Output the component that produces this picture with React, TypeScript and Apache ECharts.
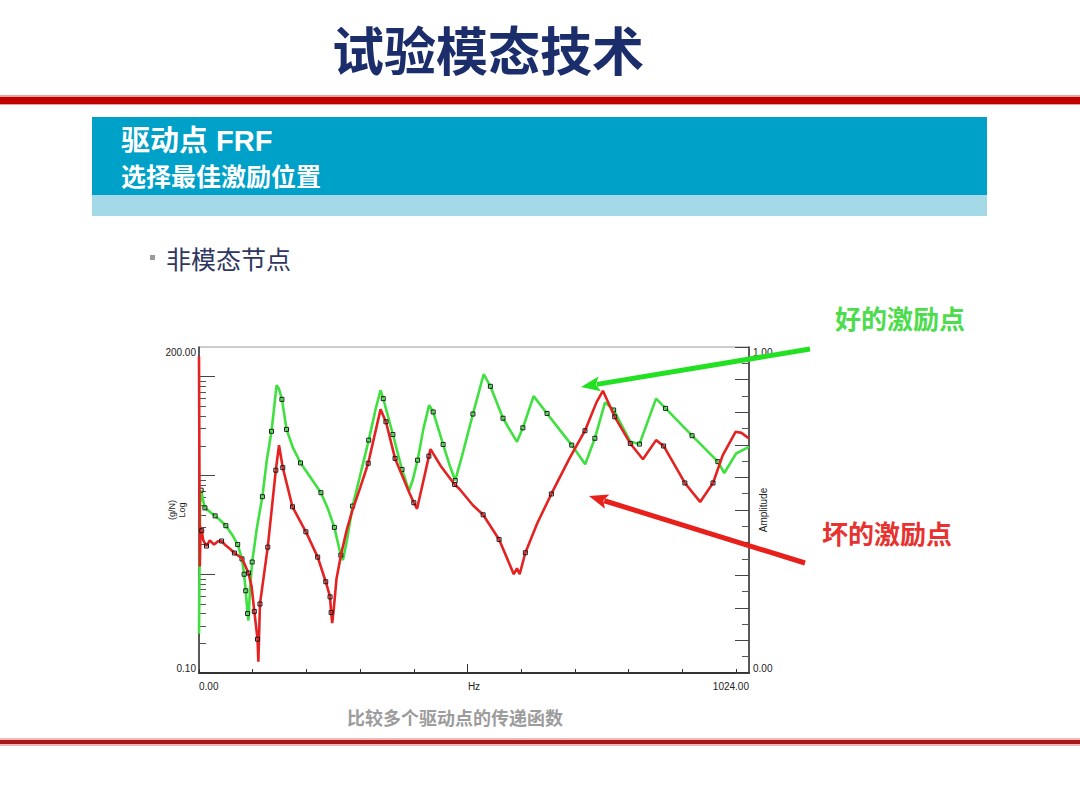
import React, { useEffect, useRef } from "react";
import * as echarts from "echarts";

// ---- axis ticks / labels ----
const xTickValues = [0, 100, 200, 300, 400, 500, 600, 700, 800, 900, 1000];
const xMidTick = [500];
const xLabelValues = [0, 1024];
const yLogMajorTicks = [1, 10, 100];
const yLogMinorTicks = [0.2, 0.3, 0.4, 0.5, 0.6, 0.7, 0.8, 0.9, 2, 3, 4, 5, 6, 7, 8, 9, 20, 30, 40, 50, 60, 70, 80, 90];
const yLogLabelValues = [0.1, 200];
const ampLabelValues = [0, 1];

// ---- good drive point FRF (green) ----
const goodFreq = [0, 2, 4, 7, 11, 20, 30, 40, 50, 62, 72, 80, 84, 87, 90.5, 92, 95, 99, 108, 118, 126, 135, 144.5, 149, 154.4, 163, 175, 189, 208, 227, 240, 252, 264, 268, 276, 286, 300, 316, 330, 338, 343, 361, 378, 391, 398, 407, 418, 428.5, 436, 454.5, 466, 477, 490, 510, 530, 542.5, 566, 592, 603, 623, 648, 672, 694, 719, 737, 756, 772, 790, 803, 820, 851, 868.7, 918, 966, 978, 1000, 1024];
const goodAmp = [0.25, 5.0, 7.1, 5.8, 4.7, 4.3, 3.9, 3.5, 3.1, 2.5, 2.0, 1.43, 1.0, 0.68, 0.4, 0.34, 0.7, 1.33, 3.0, 6.1, 14, 28, 82, 75, 59, 29.3, 19, 13.4, 9.5, 6.7, 4.6, 2.98, 1.56, 1.39, 2.3, 4.9, 10, 22.8, 50, 73, 60, 26, 11.5, 7.0, 9.0, 14.3, 30, 51.6, 44, 20.6, 13, 8.9, 16, 41.9, 106, 80, 38, 21.9, 30.4, 63.6, 42.5, 28.8, 20.3, 13, 23.8, 55, 46, 30, 22, 20.8, 60, 47.8, 25.3, 13.8, 10.6, 16.7, 19.5];
const goodMarkFreq = [4, 11, 30, 50, 72, 80, 84, 87, 90.5, 99, 118, 135, 154.4, 163, 189, 227, 252, 264, 286, 316, 343, 361, 378, 407, 436, 454.5, 477, 510, 542.5, 566, 603, 648, 694, 737, 772, 820, 868.7, 918, 966];

// ---- bad drive point FRF (red) ----
const badFreq = [0, 1.5, 3, 5, 8, 14, 20, 28, 35, 42, 50, 58, 66, 80, 92, 98, 103, 109, 110.5, 113.5, 128, 143, 149, 156, 174, 199, 221, 236, 244, 246, 248, 251, 256, 265, 275, 286, 300, 315, 338, 348, 365, 392, 400, 406, 420, 428, 431, 450, 476, 485, 510, 529, 558.7, 580, 586, 592, 597, 607.6, 630, 656, 690, 718.6, 740, 752, 774, 803, 826.5, 851, 865, 904.6, 933, 957, 975, 999, 1010, 1024];
const badAmp = [160, 1.2, 3.0, 2.76, 2.2, 1.93, 2.2, 2.0, 2.15, 2.17, 1.95, 1.8, 1.64, 1.45, 1.03, 0.75, 0.42, 0.22, 0.13, 0.5, 1.88, 11.3, 20.3, 12, 4.82, 2.69, 1.49, 0.84, 0.59, 0.41, 0.32, 0.45, 0.9, 1.63, 2.8, 4.5, 7.5, 13.3, 46.7, 35, 14.9, 6.6, 5.3, 4.6, 10, 15.7, 18.5, 12.5, 8.1, 7.3, 5.0, 4.0, 2.25, 1.2, 1.0, 1.15, 1.0, 1.65, 3.3, 6.5, 15, 28.4, 55, 72, 39.3, 21.1, 14.6, 22.8, 19.9, 8.4, 5.4, 8.4, 16, 27.7, 27, 23.7];
const badMarkFreq = [5, 14, 42, 66, 92, 103, 109, 113.5, 128, 143, 156, 174, 199, 221, 236, 244, 246, 315, 348, 365, 400, 428, 476, 529, 558.7, 607.6, 656, 718.6, 774, 803, 865, 904.6, 957];

const CJK = '"Noto Sans CJK SC", sans-serif';
const LATIN_CJK = '"Liberation Sans", Arial, "Noto Sans CJK SC", sans-serif';

function buildLine(freq: number[], amp: number[], marks: number[]) {
  return freq.map((f, i) => ({
    value: [f, amp[i]],
    symbol: marks.includes(f) ? "rect" : "none",
  }));
}

function arrow(x1: number, y1: number, x2: number, y2: number, color: string) {
  const head = 19;
  const half = 7.5;
  const dx = x2 - x1;
  const dy = y2 - y1;
  const L = Math.hypot(dx, dy);
  const ux = dx / L;
  const uy = dy / L;
  const bx = x2 - ux * head;
  const by = y2 - uy * head;
  const nx = -uy;
  const ny = ux;
  return [
    {
      type: "line",
      z: 100,
      shape: { x1, y1, x2: bx + ux * 3, y2: by + uy * 3 },
      style: { stroke: color, lineWidth: 5 },
    },
    {
      type: "polygon",
      z: 100,
      shape: {
        points: [
          [x2, y2],
          [bx + nx * half, by + ny * half],
          [bx + ux * 4, by + uy * 4],
          [bx - nx * half, by - ny * half],
        ],
      },
      style: { fill: color },
    },
  ];
}

function txt(x: number, y: number, text: string, font: string, fill: string, align = "left") {
  return {
    type: "text",
    x,
    y,
    z: 50,
    style: {
      text,
      font,
      fill,
      align,
      textAlign: align,
      verticalAlign: "middle",
      textVerticalAlign: "middle",
    },
  };
}

export default function App() {
  const ref = useRef<HTMLDivElement>(null);

  useEffect(() => {
    if (!ref.current) return;
    const chart = echarts.init(ref.current, undefined, { renderer: "svg" });
    const axisText = { fontSize: 10, color: "#222", fontFamily: '"Liberation Sans", Arial, sans-serif' };

    const option: any = {
      animation: false,
      backgroundColor: "#ffffff",
      textStyle: { fontFamily: '"Liberation Sans", Arial, sans-serif' },
      grid: {
        left: 199,
        top: 347,
        width: 550,
        height: 326,
        show: true,
        borderColor: "#9a9a9a",
        borderWidth: 1,
        backgroundColor: "transparent",
        containLabel: false,
        outerBoundsMode: "none",
      },
      xAxis: [
        {
          type: "value",
          min: 0,
          max: 1024,
          position: "bottom",
          axisLine: { show: true, onZero: false, lineStyle: { color: "#333", width: 2 } },
          axisTick: { show: true, inside: true, length: 4, customValues: xTickValues, lineStyle: { color: "#333" } },
          axisLabel: {
            ...axisText,
            customValues: xLabelValues,
            formatter: (v: number) => Number(v).toFixed(2),
            margin: 8,
            alignMinLabel: "left",
            alignMaxLabel: "right",
          },
          splitLine: { show: false },
          name: "Hz",
          nameLocation: "middle",
          nameGap: 8,
          nameMoveOverlap: false,
          nameTextStyle: { ...axisText },
        },
        {
          type: "value",
          min: 0,
          max: 1024,
          position: "bottom",
          axisLine: { show: false, onZero: false },
          axisTick: { show: true, inside: true, length: 9, customValues: xMidTick, lineStyle: { color: "#333" } },
          axisLabel: { show: false },
          splitLine: { show: false },
        },
      ],
      yAxis: [
        {
          type: "log",
          logBase: 10,
          min: 0.1,
          max: 200,
          position: "left",
          axisLine: { show: true, onZero: false, lineStyle: { color: "#333", width: 1.5 } },
          axisTick: { show: true, inside: true, length: 16, customValues: yLogMajorTicks, lineStyle: { color: "#444" } },
          axisLabel: {
            ...axisText,
            customValues: yLogLabelValues,
            formatter: (v: number) => Number(v).toFixed(2),
            margin: 3,
            verticalAlignMinLabel: "bottom",
            verticalAlignMaxLabel: "top",
          },
          splitLine: { show: false },
          name: "(g/N)\nLog",
          nameLocation: "middle",
          nameRotate: 90,
          nameGap: 12,
          nameMoveOverlap: false,
          nameTextStyle: { fontSize: 9, lineHeight: 10, color: "#222" },
        },
        {
          type: "log",
          logBase: 10,
          min: 0.1,
          max: 200,
          position: "left",
          axisLine: { show: false, onZero: false },
          axisTick: { show: true, inside: true, length: 7, customValues: yLogMinorTicks, lineStyle: { color: "#555" } },
          axisLabel: { show: false },
          splitLine: { show: false },
        },
        {
          type: "value",
          min: 0,
          max: 1,
          interval: 0.1,
          position: "right",
          axisLine: { show: true, onZero: false, lineStyle: { color: "#333", width: 1.5 } },
          axisTick: { show: true, inside: true, length: 14, lineStyle: { color: "#444" } },
          minorTick: { show: true, splitNumber: 2, length: 7, lineStyle: { color: "#555" } },
          axisLabel: {
            ...axisText,
            customValues: ampLabelValues,
            formatter: (v: number) => Number(v).toFixed(2),
            margin: 4,
            verticalAlignMinLabel: "bottom",
            verticalAlignMaxLabel: "top",
          },
          splitLine: { show: false },
          minorSplitLine: { show: false },
          name: "Amplitude",
          nameLocation: "middle",
          nameRotate: 90,
          nameGap: 9,
          nameMoveOverlap: false,
          nameTextStyle: { ...axisText },
        },
      ],
      series: [
        {
          name: "好的激励点",
          type: "line",
          xAxisIndex: 0,
          yAxisIndex: 0,
          data: buildLine(goodFreq, goodAmp, goodMarkFreq),
          showSymbol: true,
          showAllSymbol: true,
          symbolSize: 4,
          lineStyle: { color: "#3fe03f", width: 2.6 },
          itemStyle: { color: "rgba(255,255,255,0)", borderColor: "#1a1a1a", borderWidth: 1 },
          emphasis: { disabled: true },
          silent: true,
          z: 2,
        },
        {
          name: "坏的激励点",
          type: "line",
          xAxisIndex: 0,
          yAxisIndex: 0,
          data: buildLine(badFreq, badAmp, badMarkFreq),
          showSymbol: true,
          showAllSymbol: true,
          symbolSize: 4,
          lineStyle: { color: "#e52222", width: 2.6 },
          itemStyle: { color: "rgba(255,255,255,0)", borderColor: "#1a1a1a", borderWidth: 1 },
          emphasis: { disabled: true },
          silent: true,
          z: 3,
        },
      ],
      graphic: [
        // title
        txt(488, 48, "试验模态技术", `bold 52px ${CJK}`, "#1b2d6b", "center"),
        // top red rule
        { type: "rect", z: 10, shape: { x: 0, y: 95, width: 1080, height: 10 }, style: { fill: "#e8a0a0" } },
        { type: "rect", z: 11, shape: { x: 0, y: 97, width: 1080, height: 7 }, style: { fill: "#c00000" } },
        // header band
        { type: "rect", z: 10, shape: { x: 92, y: 117, width: 895, height: 78 }, style: { fill: "#00a1c8" } },
        { type: "rect", z: 10, shape: { x: 92, y: 195, width: 895, height: 21 }, style: { fill: "#a4d9e8" } },
        txt(121, 141, "驱动点 FRF", `bold 29px ${LATIN_CJK}`, "#ffffff"),
        txt(121, 175, "选择最佳激励位置", `bold 25px ${CJK}`, "#ffffff"),
        // bullet
        { type: "rect", z: 10, shape: { x: 150, y: 255, width: 5, height: 5 }, style: { fill: "#9a9a9a" } },
        txt(166, 258, "非模态节点", `25px ${CJK}`, "#2f3760"),
        // annotations
        txt(835, 317, "好的激励点", `bold 26px ${CJK}`, "#4cdc4c"),
        txt(822, 532, "坏的激励点", `bold 26px ${CJK}`, "#e8322f"),
        ...arrow(810, 349, 581, 387, "#22e022"),
        ...arrow(805, 563, 589, 496, "#e8201c"),
        // caption
        txt(455, 717, "比较多个驱动点的传递函数", `bold 18px ${CJK}`, "#9c9c9c", "center"),
        // bottom red rule
        { type: "rect", z: 10, shape: { x: 0, y: 738, width: 1080, height: 8 }, style: { fill: "#f0b8b8" } },
        { type: "rect", z: 11, shape: { x: 0, y: 740, width: 1080, height: 4 }, style: { fill: "#a8191b" } },
      ],
    };

    chart.setOption(option);
    return () => {
      chart.dispose();
    };
  }, []);

  return (
    <div
      ref={ref}
      style={{ position: "fixed", left: 0, top: 0, width: 1080, height: 810, background: "#ffffff" }}
    />
  );
}
